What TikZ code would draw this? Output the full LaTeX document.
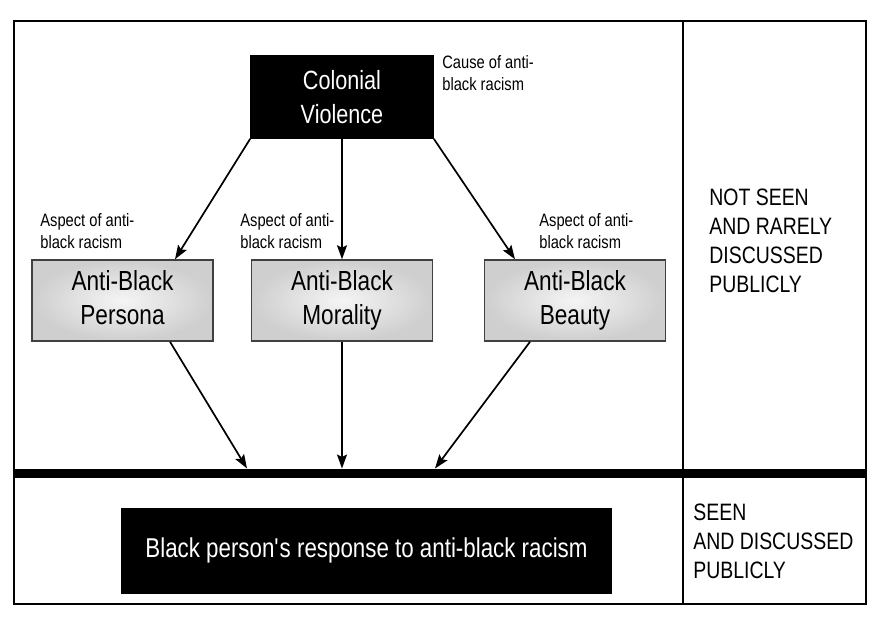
\documentclass[tikz,border=0pt]{standalone}
\usepackage{fontspec}
\setmainfont{Liberation Sans}[FakeStretch=0.82]
\usetikzlibrary{positioning,arrows.meta,calc}

\begin{document}
\begin{tikzpicture}[x=0.2mm,y=-0.2mm,
  blackbox/.style={draw=black,fill=black,text=white,align=center,inner sep=0pt},
  greybox/.style={draw=black!75,line width=0.3mm,shading=radial,inner color=gray!8,outer color=gray!38,
    align=center,minimum width=36.2mm,minimum height=16.2mm,inner sep=0pt,font=\fontsize{15.7}{19.5}\selectfont},
  note/.style={align=left,inner sep=0pt,anchor=base west,font=\fontsize{10.2}{12}\selectfont},
  side/.style={align=left,inner sep=0pt,anchor=base west,font=\fontsize{13.5}{16.5}\selectfont},
  link/.style={line width=0.34mm,-{Stealth[length=2.8mm,width=2mm,inset=0.5mm]}}]
  \useasboundingbox (0,0) rectangle (878,621);
  % frame and the seen / unseen split
  \draw[line width=0.4mm](13.5,20.5) rectangle (866,604);
  \draw[line width=0.4mm](683,20.5)--(683,604);
  \draw[line width=1.8mm](13.5,473)--(866,473);
  \coordinate (barp) at (247,468.5);
  \coordinate (barm) at (342,468.5);
  \coordinate (barb) at (435,468.5);
  \node[blackbox,minimum width=36.6mm,minimum height=16.6mm,font=\fontsize{15}{19.4}\selectfont] (colonial) at (342,97){Colonial\\Violence};
  \node[greybox] (persona) at (122.5,300.5){Anti-Black\\Persona\vphantom{y}};
  \node[greybox] (morality) at (342,300.5){Anti-Black\\Morality};
  \node[greybox] (beauty) at (575,300.5){Anti-Black\\Beauty};
  \node[blackbox,minimum width=98mm,minimum height=17mm,font=\fontsize{15.5}{18}\selectfont] (response) at (366.5,550.5){Black person\textquotesingle s response to anti-black racism};
  % base anchor sits on the last line
  \node[note] (cause) at (442,90){Cause of anti-\\black racism};
  \node[note] (aspp) at (40,248){Aspect of anti-\\black racism};
  \node[note] (aspm) at (240,248){Aspect of anti-\\black racism};
  \node[note] (aspb) at (539,248){Aspect of anti-\\black racism};
  \node[side] (hidden) at (709,292){NOT SEEN\\AND RARELY\\DISCUSSED\\PUBLICLY};
  \node[side] (seen) at (693,578){SEEN\\AND DISCUSSED\\PUBLICLY};
  \draw[link](colonial.south west)--([xshift=10.5mm]persona.north);
  \draw[link](colonial.south)--(morality.north);
  \draw[link](colonial.south east)--([xshift=-12mm]beauty.north);
  \draw[link]([xshift=9.5mm]persona.south)--(barp);
  \draw[link](morality.south)--(barm);
  \draw[link]([xshift=-9mm]beauty.south)--(barb);
\end{tikzpicture}
\end{document}
